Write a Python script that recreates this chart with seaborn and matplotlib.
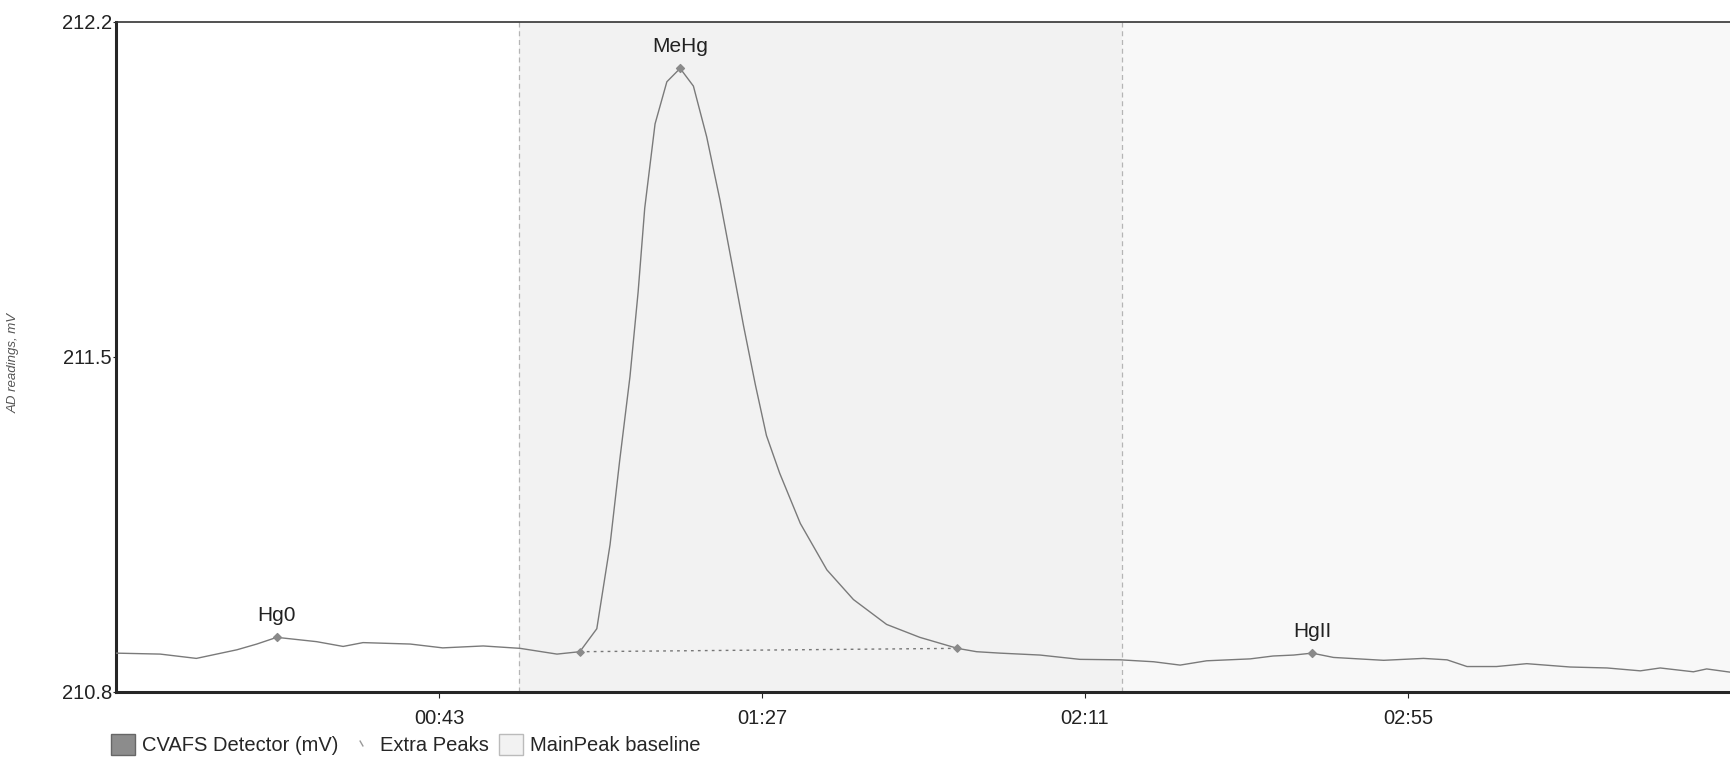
import matplotlib
matplotlib.use("Agg")
import matplotlib.pyplot as plt
import seaborn as sns
import pandas as pd
from matplotlib.patches import Patch
from matplotlib.lines import Line2D

# chromatogram trace (seconds, mV)
time_s = [0.0, 6.0, 10.9, 16.4, 19.1, 21.8, 27.2, 30.8, 33.5, 39.9,
          44.3, 49.8, 54.8, 59.8, 62.9, 65.2, 67.0, 68.3, 69.7, 70.8,
          71.7, 73.1, 74.7, 76.5, 78.3, 80.1, 81.9, 83.5, 85.1, 86.7,
          88.2, 90.0, 92.8, 96.4, 100.0, 104.5, 109.0, 114.1, 116.7, 119.9,
          125.3, 130.7, 136.2, 140.7, 144.3, 147.9, 153.8, 156.9, 159.7, 162.2,
          165.1, 171.9, 177.3, 180.5, 183.2, 187.2, 191.3, 197.2, 202.2, 206.7,
          209.4, 213.9, 215.7, 219.0]
signal_mv = [210.881, 210.879, 210.870, 210.888, 210.900, 210.914, 210.905, 210.895, 210.903, 210.900,
             210.892, 210.896, 210.891, 210.879, 210.884, 210.932, 211.108, 211.283, 211.459, 211.635,
             211.811, 211.987, 212.075, 212.103, 212.066, 211.960, 211.828, 211.697, 211.565, 211.442,
             211.336, 211.257, 211.152, 211.055, 210.993, 210.941, 210.914, 210.891, 210.884, 210.881,
             210.877, 210.868, 210.867, 210.863, 210.856, 210.865, 210.869, 210.875, 210.877, 210.881,
             210.872, 210.866, 210.870, 210.867, 210.853, 210.853, 210.859, 210.852, 210.850, 210.844,
             210.850, 210.842, 210.848, 210.841]

peak_names = ["Hg0", "MeHg", "HgII"]
peak_times = [21.8, 76.5, 162.2]
peak_values = [210.914, 212.103, 210.881]

base_times = [62.9, 114.1]
base_values = [210.884, 210.891]

window_times = [54.7, 136.4]

x_ticks = [43.8, 87.6, 131.4, 175.2]
x_labels = ["00:43", "01:27", "02:11", "02:55"]
y_ticks = [210.8, 211.5, 212.2]

sns.set_theme(style="white")
plt.rcParams['font.family'] = ['Liberation Sans', 'DejaVu Sans']

df = pd.DataFrame({"time": time_s, "mv": signal_mv})

fig = plt.figure(figsize=(17.31, 7.57), dpi=100)
ax = fig.add_axes([0.067, 0.086, 0.933, 0.885])

# shaded integration window
ax.axvspan(window_times[0], window_times[1], color="#f2f2f2", zorder=0, lw=0)
ax.axvspan(window_times[1], 219, color="#f8f8f8", zorder=0, lw=0)
for t in window_times:
    ax.axvline(t, color="#b5b5b5", ls=(0, (4, 3)), lw=0.9, zorder=1)

sns.lineplot(data=df, x="time", y="mv", ax=ax, color="#7a7a7a", lw=1.0, zorder=3)

# main peak baseline
ax.plot(base_times, base_values, color="#777777", ls=(0, (2, 3)), lw=1.0, zorder=2)
ax.scatter(base_times, base_values, s=14, color="#8a8a8a", zorder=4, marker="D")

ax.scatter(peak_times, peak_values, s=16, color="#8a8a8a", zorder=4, marker="D")
for name, t, v in zip(peak_names, peak_times, peak_values):
    ax.annotate(name, (t, v), xytext=(0, 9), textcoords="offset points",
                ha="center", va="bottom", fontsize=15, color="#222222")

ax.set_xlim(0, 219)
ax.set_ylim(210.8, 212.2)
ax.set_xticks(x_ticks)
ax.set_xticklabels(x_labels)
ax.set_yticks(y_ticks)
ax.set_yticklabels([f"{v:.1f}" for v in y_ticks])
ax.tick_params(axis="x", labelsize=14.5, colors="#222222", length=4, width=0.8,
               direction="out", bottom=True, pad=8)
ax.tick_params(axis="y", labelsize=14.5, colors="#222222", length=2, width=0.8,
               direction="out", left=True, pad=1)
ax.set_xlabel("")
ax.set_ylabel("")
fig.text(0.008, 0.52, "AD readings, mV", rotation=90, ha="center", va="center",
         fontsize=9.5, style="italic", color="#555555")

for side in ["left", "bottom"]:
    ax.spines[side].set_color("#262626")
    ax.spines[side].set_linewidth(2.2)
ax.spines["top"].set_color("#333333")
ax.spines["top"].set_linewidth(1.2)
ax.spines["right"].set_visible(False)

handles = [Patch(facecolor="#8c8c8c", edgecolor="#666666"),
           Line2D([], [], color="#999999", marker=(2, 0, 30), ls="none", markersize=5),
           Patch(facecolor="#f2f2f2", edgecolor="#bbbbbb")]
labels = ["CVAFS Detector (mV)", "Extra Peaks", "MainPeak baseline"]
ax.legend(handles, labels, loc="center left", bbox_to_anchor=(-0.003, -0.079), ncol=3,
          frameon=False, fontsize=14.5, handlelength=1.2, handleheight=1.2,
          handletextpad=0.35, columnspacing=0.5, borderaxespad=0, borderpad=0)

fig.savefig("out.png", dpi=100)
